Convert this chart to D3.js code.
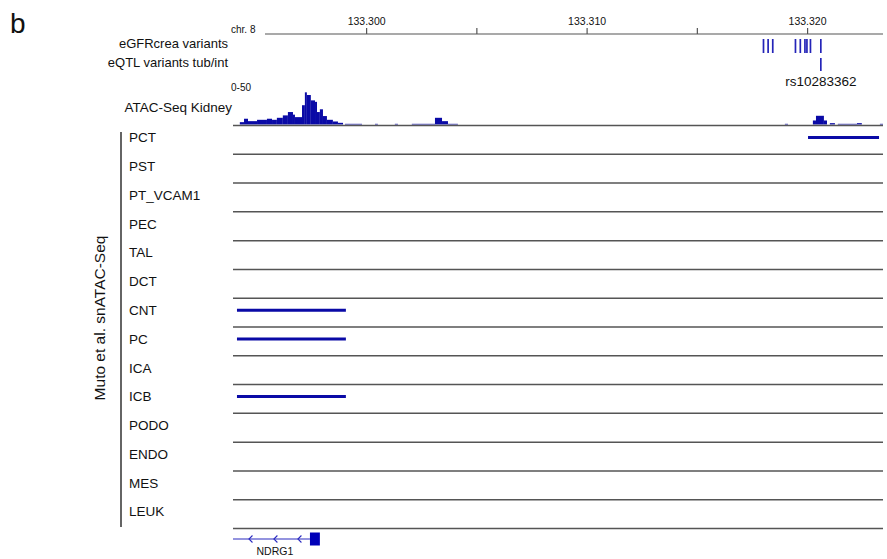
<!DOCTYPE html>
<html>
<head>
<meta charset="utf-8">
<script src="https://cdn.jsdelivr.net/npm/d3@7"></script>
<style>
  body { margin: 0; background: #fff; }
  text { font-family: "Liberation Sans", Arial, sans-serif; fill: #111; }
</style>
</head>
<body>
<script>
// genomic window, chr8 (Mb)
var region = [133.29394, 133.32342];
var majorTicks = [133.300, 133.310, 133.320];
var minorTicks = [133.305, 133.315];

// variant positions (Mb)
var egfrVariants = [133.31800, 133.31821, 133.31842, 133.31945, 133.31967, 133.31988, 133.31997, 133.32013, 133.32060];
var eqtlVariants = [133.32060];
var eqtlLabels = ["rs10283362"];

// ATAC-Seq kidney coverage bins: start, end, value (0-50)
var atacStart = [133.29425, 133.29444, 133.29462, 133.29503, 133.29548, 133.29571, 133.29593, 133.29620, 133.29643, 133.29666, 133.29675, 133.29707, 133.29720, 133.29729, 133.29747, 133.29766, 133.29775, 133.29788, 133.29802, 133.29820, 133.29847, 133.29870, 133.29902, 133.30038, 133.30128, 133.30205, 133.30310, 133.30342, 133.30369, 133.31897, 133.32024, 133.32038, 133.32074, 133.32101, 133.32137, 133.32224, 133.32328];
var atacEnd   = [133.29444, 133.29462, 133.29503, 133.29548, 133.29571, 133.29593, 133.29620, 133.29643, 133.29666, 133.29675, 133.29707, 133.29720, 133.29729, 133.29747, 133.29766, 133.29775, 133.29788, 133.29802, 133.29820, 133.29847, 133.29870, 133.29893, 133.29979, 133.30051, 133.30142, 133.30310, 133.30342, 133.30369, 133.30414, 133.31911, 133.32038, 133.32074, 133.32088, 133.32124, 133.32224, 133.32246, 133.32342];
var atacValue = [3.5, 8.6, 5, 7, 8.6, 7, 10, 13.6, 18.6, 14.7, 11, 28.8, 48, 44, 36, 33.8, 18.6, 22.7, 12.6, 7, 4.5, 2.5, 1, 1, 1, 1, 10, 5, 1, 1, 6, 13, 6, 2, 1, 2, 1];

// snATAC-Seq cell types and their peaks
var cellTypes = ["PCT", "PST", "PT_VCAM1", "PEC", "TAL", "DCT", "CNT", "PC", "ICA", "ICB", "PODO", "ENDO", "MES", "LEUK"];
var peakCell  = ["PCT", "CNT", "PC", "ICB"];
var peakStart = [133.32002, 133.29412, 133.29412, 133.29412];
var peakEnd   = [133.32324, 133.29906, 133.29906, 133.29906];

// NDRG1 (minus strand)
var geneName = "NDRG1";
var geneStart = 133.29394;
var geneExonStart = 133.29743, geneExonEnd = 133.29788;
var geneArrows = [133.29471, 133.29584, 133.29693];

var width = 887, height = 559;
var blue = "#0a0aa6";

var svg = d3.select("body").append("svg")
  .attr("width", width)
  .attr("height", height);

var x = d3.scaleLinear().domain(region).range([233, 883]);

svg.append("text").attr("x", 10).attr("y", 33)
  .style("font-size", "28px").text("b");

// ruler
var axisY = 34;
svg.append("text").attr("x", 231).attr("y", axisY - 1)
  .style("font-size", "10px").text("chr. 8");
var axisG = svg.append("g").attr("transform", "translate(0," + axisY + ")");
axisG.append("line").attr("x1", 265).attr("x2", 883)
  .attr("stroke", "#555").attr("stroke-width", 1.2);
axisG.call(function (g) {
  g.selectAll(".major").data(majorTicks).join("line")
    .attr("x1", x).attr("x2", x).attr("y1", -6).attr("y2", 0)
    .attr("stroke", "#555").attr("stroke-width", 1.2);
  g.selectAll(".minor").data(minorTicks).join("line")
    .attr("class", "minor")
    .attr("x1", x).attr("x2", x).attr("y1", -6).attr("y2", 0)
    .attr("stroke", "#555").attr("stroke-width", 1.2);
  g.selectAll(".lab").data(majorTicks).join("text")
    .attr("class", "lab")
    .attr("x", x).attr("y", -9)
    .attr("text-anchor", "middle")
    .style("font-size", "10.5px")
    .text(d3.format(".3f"));
});

// variant tracks
svg.append("text").attr("x", 228).attr("y", 48).attr("text-anchor", "end")
  .style("font-size", "13px").text("eGFRcrea variants");
svg.append("text").attr("x", 228).attr("y", 67).attr("text-anchor", "end")
  .style("font-size", "13px").text("eQTL variants tub/int");

svg.append("g").selectAll("line").data(egfrVariants).join("line")
  .attr("x1", x).attr("x2", x).attr("y1", 39).attr("y2", 53)
  .attr("stroke", "#2424b8").attr("stroke-width", 1.7);
svg.append("g").selectAll("line").data(eqtlVariants).join("line")
  .attr("x1", x).attr("x2", x).attr("y1", 58).attr("y2", 71)
  .attr("stroke", "#2424b8").attr("stroke-width", 1.7);
svg.append("g").selectAll("text").data(eqtlVariants).join("text")
  .attr("x", x).attr("y", 86).attr("text-anchor", "middle")
  .style("font-size", "13.5px")
  .text(function (d, i) { return eqtlLabels[i]; });

// ATAC-Seq Kidney coverage
var atacBase = 124.5;
var yAtac = d3.scaleLinear().domain([0, 50]).range([atacBase, 91]);
svg.append("text").attr("x", 231).attr("y", 91)
  .style("font-size", "10px").text("0-50");
svg.append("text").attr("x", 232).attr("y", 112).attr("text-anchor", "end")
  .style("font-size", "13.5px").text("ATAC-Seq Kidney");

var atacBins = atacValue.map(function (v, i) {
  return { start: atacStart[i], end: atacEnd[i], value: v };
});
svg.append("g").selectAll("rect").data(atacBins).join("rect")
  .attr("x", function (d) { return x(d.start); })
  .attr("width", function (d) { return x(d.end) - x(d.start); })
  .attr("y", function (d) { return yAtac(d.value); })
  .attr("height", function (d) { return atacBase - yAtac(d.value); })
  .attr("fill", blue);

// cell type rows
var yRow = d3.scaleBand().domain(cellTypes).range([125.5, 528.5]);

svg.append("line").attr("x1", 233).attr("x2", 883)
  .attr("y1", yRow.range()[0]).attr("y2", yRow.range()[0])
  .attr("stroke", "#555").attr("stroke-width", 1.5);
svg.append("g").selectAll("line").data(cellTypes).join("line")
  .attr("x1", 233).attr("x2", 883)
  .attr("y1", function (d) { return yRow(d) + yRow.bandwidth(); })
  .attr("y2", function (d) { return yRow(d) + yRow.bandwidth(); })
  .attr("stroke", "#555").attr("stroke-width", 1.5);

svg.append("g").selectAll("text").data(cellTypes).join("text")
  .attr("x", 129)
  .attr("y", function (d) { return yRow(d) + 12; })
  .attr("dy", "0.35em")
  .style("font-size", "13.5px")
  .text(function (d) { return d; });

svg.append("line").attr("x1", 121).attr("x2", 121)
  .attr("y1", 132).attr("y2", 527)
  .attr("stroke", "#111").attr("stroke-width", 1.3);
svg.append("text")
  .attr("transform", "translate(105,318) rotate(-90)")
  .attr("text-anchor", "middle")
  .style("font-size", "15.5px")
  .text("Muto et al. snATAC-Seq");

var peaks = peakCell.map(function (c, i) {
  return { cell: c, start: peakStart[i], end: peakEnd[i] };
});
svg.append("g").selectAll("line").data(peaks).join("line")
  .attr("x1", function (d) { return x(d.start); })
  .attr("x2", function (d) { return x(d.end); })
  .attr("y1", function (d) { return yRow(d.cell) + 12; })
  .attr("y2", function (d) { return yRow(d.cell) + 12; })
  .attr("stroke", blue).attr("stroke-width", 3);

// gene model
var geneY = 539;
var gene = svg.append("g");
gene.append("line")
  .attr("x1", x(geneStart)).attr("x2", x(geneExonStart))
  .attr("y1", geneY).attr("y2", geneY)
  .attr("stroke", "#2a2ac0").attr("stroke-width", 1.2);
gene.selectAll("path").data(geneArrows).join("path")
  .attr("d", function (d) {
    var px = x(d);
    return "M" + (px + 2.5) + "," + (geneY - 3.5) + "L" + (px - 1) + "," + geneY + "L" + (px + 2.5) + "," + (geneY + 3.5);
  })
  .attr("fill", "none").attr("stroke", "#2a2ac0").attr("stroke-width", 1.1);
gene.append("rect")
  .attr("x", x(geneExonStart)).attr("width", x(geneExonEnd) - x(geneExonStart))
  .attr("y", geneY - 6.5).attr("height", 13)
  .attr("fill", "#0000b8");
gene.append("text")
  .attr("x", x(geneArrows[1])).attr("y", geneY + 16)
  .attr("text-anchor", "middle")
  .style("font-size", "10.5px")
  .text(geneName);
</script>
</body>
</html>
